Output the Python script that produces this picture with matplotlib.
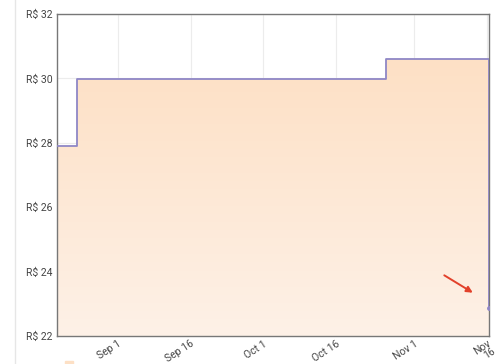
import numpy as np
import pandas as pd
import matplotlib
matplotlib.use('Agg')
import matplotlib.pyplot as plt
import matplotlib.dates as mdates
from matplotlib.colors import LinearSegmentedColormap

plt.rcParams['font.family'] = ['Roboto', 'DejaVu Sans']

# price history (step changes)
dates = pd.to_datetime(['2024-08-19 12:00', '2024-08-23 16:00', '2024-10-26 06:00',
                        '2024-11-16 08:00', '2024-11-16 08:30'])
prices = [27.89, 29.99, 30.59, 30.59, 22.88]

tick_dates = pd.to_datetime(['2024-09-01', '2024-09-16', '2024-10-01',
                             '2024-10-16', '2024-11-01', '2024-11-16'])
tick_labels = ['Sep 1', 'Sep 16', 'Oct 1', 'Oct 16', 'Nov 1', 'Nov\n16']
y_ticks = [22, 24, 26, 28, 30, 32]

fig = plt.figure(figsize=(5, 3.64), dpi=100)
ax = fig.add_axes([57 / 500, 1 - 336 / 364, 432 / 500, 322 / 364])

x = mdates.date2num(dates)
xmin = x[0]
xmax = mdates.date2num(pd.Timestamp('2024-11-16 10:00'))

# gradient fill under the step line
cmap = LinearSegmentedColormap.from_list('peach', ['#fdf1e7', '#fee0c5'])
grad = np.linspace(0, 1, 256).reshape(-1, 1)
im = ax.imshow(grad, cmap=cmap, aspect='auto', origin='lower',
               extent=[xmin, xmax, 22, 30.6], zorder=1)
poly = ax.fill_between(x, prices, 22, step='post', color='none', lw=0)
im.set_clip_path(poly.get_paths()[0], transform=ax.transData)

ax.step(x, prices, where='post', color='#8f87c6', lw=1.3, zorder=3)
ax.plot(x[-1], prices[-1], 'o', color='#8f87c6', ms=2.5, zorder=4)

ax.set_xlim(xmin, xmax)
ax.set_ylim(22, 32)
ax.set_yticks(y_ticks)
ax.set_yticklabels(['R$ %d' % v for v in y_ticks])
ax.set_xticks(mdates.date2num(tick_dates))
ax.set_xticklabels(tick_labels, rotation=33, ha='right', va='top',
                   rotation_mode='anchor', linespacing=0.85)

ax.grid(True, color='#ececec', lw=0.8, zorder=0)
ax.set_axisbelow(True)
for s in ax.spines.values():
    s.set_color('#777777')
    s.set_linewidth(1.0)
ax.tick_params(axis='both', length=0, labelsize=7.5, colors='#444444', pad=3)
ax.tick_params(axis='x', pad=2)

ax.annotate('', xy=(0.968, 0.130), xytext=(0.891, 0.193), xycoords='axes fraction',
            arrowprops=dict(arrowstyle='-|>', color='#e2412b', lw=1.4,
                            mutation_scale=9), zorder=5)

# page edge and cut-off legend swatch
fig.add_artist(plt.Line2D([15 / 500, 15 / 500], [0, 1], color='#e6e6e6', lw=1))
fig.patches.append(plt.Rectangle((65 / 500, -0.012), 8 / 500, 0.02, color='#fde0c5',
                                 transform=fig.transFigure, figure=fig))

fig.savefig('out.png', dpi=100)
